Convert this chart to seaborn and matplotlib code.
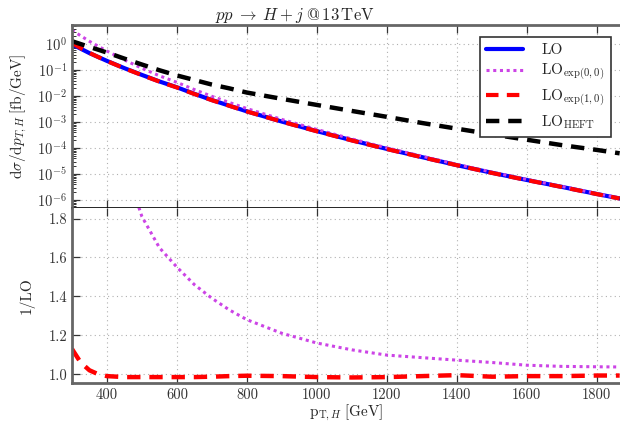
import numpy as np
import seaborn as sns
import matplotlib
matplotlib.use("Agg")
import matplotlib.pyplot as plt
from matplotlib.ticker import LogLocator, NullFormatter

# transverse momentum grid [GeV]
pt = [300, 325, 350, 375, 400, 450, 500, 550, 600, 650, 700, 750, 800,
      900, 1000, 1100, 1200, 1300, 1400, 1500, 1600, 1700, 1800, 1865]

# d sigma / d pT [fb/GeV]
lo = [1.0, 0.676, 0.457, 0.324, 0.229, 0.120, 0.066, 0.037, 0.022, 0.0123,
      0.0071, 0.0043, 0.0026, 0.00105, 4.5e-4, 2.0e-4, 9.3e-5, 4.5e-5,
      2.2e-5, 1.12e-5, 5.9e-6, 3.2e-6, 1.7e-6, 1.15e-6]
heft = [1.32, 1.02, 0.79, 0.62, 0.48, 0.28, 0.166, 0.10, 0.063, 0.042,
        0.028, 0.020, 0.0138, 0.0079, 0.0046, 0.0027, 0.0016, 9.3e-4,
        5.6e-4, 3.4e-4, 2.1e-4, 1.3e-4, 8.5e-5, 6.3e-5]

# ratios to LO
ratio_exp00 = [3.5, 3.15, 2.85, 2.6, 2.4, 2.08, 1.81, 1.65, 1.55, 1.46, 1.39,
               1.33, 1.28, 1.21, 1.16, 1.125, 1.098, 1.085, 1.072, 1.06,
               1.046, 1.04, 1.038, 1.037]
ratio_exp10 = [1.13, 1.06, 1.02, 1.0, 0.99, 0.985, 0.985, 0.985, 0.985,
               0.985, 0.987, 0.99, 0.992, 0.99, 0.985, 0.983, 0.985, 0.99,
               0.995, 0.987, 0.99, 0.99, 0.993, 0.993]

exp00 = np.array(lo) * np.array(ratio_exp00)
exp10 = np.array(lo) * np.array(ratio_exp10)

sns.set_style("white")
plt.rcParams["font.family"] = ["cmr10", "DejaVu Serif"]
plt.rcParams["mathtext.fontset"] = "cm"
plt.rcParams["axes.formatter.use_mathtext"] = True
plt.rcParams["font.size"] = 11

c_blue = "#0000ff"
c_mag = "#cc44e6"
c_red = "#ff0000"
c_blk = "#000000"

fig = plt.figure(figsize=(6.2, 4.25), dpi=100)
ax1 = fig.add_axes([0.116, 0.511, 0.884, 0.43])
ax2 = fig.add_axes([0.116, 0.099, 0.884, 0.412], sharex=ax1)

sns.lineplot(x=pt, y=lo, ax=ax1, color=c_blue, lw=3, label="LO")
sns.lineplot(x=pt, y=exp00, ax=ax1, color=c_mag, lw=2.2, linestyle=(0, (1, 1.2)),
             label=r"$\mathrm{LO}_{\mathrm{exp}(0,0)}$")
sns.lineplot(x=pt, y=exp10, ax=ax1, color=c_red, lw=3, linestyle=(0, (3, 2)),
             label=r"$\mathrm{LO}_{\mathrm{exp}(1,0)}$")
sns.lineplot(x=pt, y=heft, ax=ax1, color=c_blk, lw=3.2, linestyle=(0, (3, 2)),
             label=r"$\mathrm{LO}_{\mathrm{HEFT}}$")

sns.lineplot(x=pt, y=ratio_exp00, ax=ax2, color=c_mag, lw=2.2, linestyle=(0, (1, 1.2)))
sns.lineplot(x=pt, y=ratio_exp10, ax=ax2, color=c_red, lw=3.2, linestyle=(0, (3, 2)))

ax1.set_yscale("log")
ax1.set_ylim(5e-7, 5.5)
ax1.set_xlim(300, 1866)
ax1.yaxis.set_minor_locator(LogLocator(base=10, subs=np.arange(2, 10) * 0.1, numticks=20))
ax1.yaxis.set_minor_formatter(NullFormatter())
ax1.set_yticks([1e0, 1e-1, 1e-2, 1e-3, 1e-4, 1e-5, 1e-6])
ax1.tick_params(labelbottom=False)
ax1.set_xlabel("")
ax1.set_ylabel(r"$\mathrm{d}\sigma/\mathrm{d}p_{T,H}\;[\mathrm{fb/GeV}]$", fontsize=11, labelpad=6)
ax1.set_title(r"$pp\;\rightarrow\;H+j\;@\,13\,\mathrm{TeV}$", fontsize=12, x=0.407, pad=3)

ax2.set_ylim(0.955, 1.855)
ax2.set_yticks([1.0, 1.2, 1.4, 1.6, 1.8])
ax2.set_yticklabels(["1.0", "1.2", "1.4", "1.6", "1.8"])
ax2.set_xticks([400, 600, 800, 1000, 1200, 1400, 1600, 1800])
ax2.set_xticklabels(["400", "600", "800", "1000", "1200", "1400", "1600", "1800"])
ax2.set_ylabel("1/LO", fontsize=11, labelpad=10)
ax2.set_xlabel(r"$\mathrm{p}_{\mathrm{T},H}\;[\mathrm{GeV}]$", fontsize=11, labelpad=1)

for ax in (ax1, ax2):
    ax.grid(True, which="major", color="#b0b0b0", linestyle=(0, (1, 3)), lw=0.8)
    ax.tick_params(which="both", direction="in", top=True, bottom=True, left=True,
                   right=False, colors="#333333", labelcolor="#333333", labelsize=10.5)
    ax.tick_params(which="major", length=6, width=0.9)
    ax.tick_params(which="minor", length=3, width=0.7)
    for side in ("left", "top", "bottom"):
        ax.spines[side].set_color("#666666")
        ax.spines[side].set_linewidth(2)
    ax.spines["right"].set_visible(False)

ax1.spines["bottom"].set_color("#000000")
ax1.spines["bottom"].set_linewidth(1.2)
ax2.spines["top"].set_visible(False)

leg = ax1.legend(loc="upper right", fontsize=11, frameon=True, fancybox=False,
                 framealpha=1, borderpad=0.4, handlelength=2.4, labelspacing=0.3,
                 handletextpad=1.2, bbox_to_anchor=(0.997, 0.975))
leg.get_frame().set_edgecolor("#333333")
leg.get_frame().set_linewidth(1.2)

fig.savefig("out.png", dpi=100)
